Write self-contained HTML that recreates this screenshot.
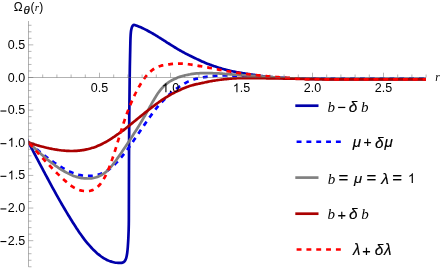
<!DOCTYPE html>
<html><head><meta charset="utf-8"><title>plot</title>
<style>html,body{margin:0;padding:0;background:#fff;width:442px;height:270px;overflow:hidden;font-family:"Liberation Sans",sans-serif}</style></head>
<body>
<svg width="442" height="270" viewBox="0 0 442 270" style="position:absolute;left:0;top:0;will-change:transform">
<clipPath id="cp"><rect x="28.2" y="0" width="397.8" height="270"/></clipPath>
<g fill="none" stroke-width="2.70" stroke-linejoin="round" clip-path="url(#cp)">
<path d="M26.50 138.48 C26.83 139.12 27.83 141.03 28.50 142.30 C29.17 143.57 29.83 144.85 30.50 146.12 C31.17 147.39 31.83 148.67 32.50 149.94 C33.17 151.21 33.83 152.48 34.50 153.75 C35.17 155.02 35.83 156.28 36.50 157.55 C37.17 158.81 37.83 160.08 38.50 161.34 C39.17 162.60 39.83 163.86 40.50 165.11 C41.17 166.37 41.83 167.63 42.50 168.88 C43.17 170.13 43.83 171.39 44.50 172.64 C45.17 173.89 45.83 175.14 46.50 176.39 C47.17 177.63 47.83 178.88 48.50 180.12 C49.17 181.36 49.83 182.60 50.50 183.83 C51.17 185.07 51.83 186.30 52.50 187.52 C53.17 188.74 53.83 189.96 54.50 191.17 C55.17 192.38 55.83 193.59 56.50 194.79 C57.17 195.98 57.83 197.18 58.50 198.36 C59.17 199.54 59.83 200.71 60.50 201.87 C61.17 203.04 61.83 204.19 62.50 205.34 C63.17 206.48 63.83 207.62 64.50 208.75 C65.17 209.88 65.83 211.00 66.50 212.11 C67.17 213.22 67.83 214.33 68.50 215.43 C69.17 216.52 69.83 217.61 70.50 218.70 C71.17 219.78 71.83 220.85 72.50 221.92 C73.17 222.98 73.83 224.03 74.50 225.07 C75.17 226.12 75.83 227.15 76.50 228.17 C77.17 229.18 77.83 230.19 78.50 231.18 C79.17 232.16 79.83 233.14 80.50 234.09 C81.17 235.04 81.83 235.98 82.50 236.89 C83.17 237.80 83.83 238.69 84.50 239.55 C85.17 240.42 85.83 241.25 86.50 242.07 C87.17 242.89 87.83 243.68 88.50 244.45 C89.17 245.22 89.83 245.97 90.50 246.70 C91.17 247.42 91.83 248.13 92.50 248.82 C93.17 249.51 93.83 250.18 94.50 250.82 C95.17 251.47 95.83 252.09 96.50 252.69 C97.17 253.29 97.83 253.86 98.50 254.41 C99.17 254.96 99.83 255.48 100.50 255.98 C101.17 256.47 101.83 256.93 102.50 257.37 C103.17 257.81 103.83 258.22 104.50 258.61 C105.17 259.00 105.83 259.36 106.50 259.69 C107.17 260.03 107.83 260.33 108.50 260.62 C109.17 260.90 109.83 261.16 110.50 261.39 C111.17 261.63 111.83 261.83 112.50 262.01 C113.17 262.19 113.83 262.35 114.50 262.47 C115.17 262.59 115.83 262.68 116.50 262.76 C117.17 262.83 117.98 262.87 118.50 262.90 C119.02 262.93 118.93 263.00 119.60 262.95 C120.27 262.90 121.68 262.86 122.50 262.60 C123.32 262.34 123.88 262.15 124.50 261.40 C125.12 260.65 125.75 259.50 126.20 258.10 C126.65 256.70 126.93 254.85 127.20 253.00 C127.47 251.15 127.60 249.67 127.80 247.00 C128.00 244.33 128.23 240.83 128.40 237.00 C128.57 233.17 128.72 230.17 128.80 224.00 C128.88 217.83 128.85 214.00 128.90 200.00 C128.95 186.00 128.97 160.50 129.10 140.00 C129.23 119.50 129.52 92.00 129.70 77.00 C129.88 62.00 130.07 56.50 130.20 50.00 C130.33 43.50 130.38 41.00 130.50 38.00 C130.62 35.00 130.70 33.70 130.90 32.00 C131.10 30.30 131.38 28.87 131.70 27.80 C132.02 26.73 132.40 26.10 132.80 25.60 C133.20 25.10 133.55 24.82 134.10 24.80 C134.65 24.78 135.43 25.27 136.10 25.51 C136.77 25.75 137.43 25.99 138.10 26.24 C138.77 26.50 139.43 26.76 140.10 27.04 C140.77 27.32 141.43 27.62 142.10 27.92 C142.77 28.23 143.43 28.55 144.10 28.87 C144.77 29.20 145.43 29.54 146.10 29.89 C146.77 30.24 147.43 30.59 148.10 30.95 C148.77 31.32 149.43 31.68 150.10 32.06 C150.77 32.43 151.43 32.81 152.10 33.19 C152.77 33.58 153.43 33.97 154.10 34.36 C154.77 34.76 155.43 35.16 156.10 35.56 C156.77 35.96 157.43 36.37 158.10 36.78 C158.77 37.19 159.43 37.61 160.10 38.03 C160.77 38.45 161.43 38.87 162.10 39.29 C162.77 39.71 163.43 40.14 164.10 40.56 C164.77 40.99 165.43 41.42 166.10 41.85 C166.77 42.27 167.43 42.70 168.10 43.13 C168.77 43.55 169.43 43.98 170.10 44.40 C170.77 44.82 171.43 45.25 172.10 45.66 C172.77 46.08 173.43 46.49 174.10 46.90 C174.77 47.31 175.43 47.72 176.10 48.12 C176.77 48.52 177.43 48.91 178.10 49.30 C178.77 49.69 179.43 50.08 180.10 50.46 C180.77 50.84 181.43 51.21 182.10 51.58 C182.77 51.95 183.43 52.31 184.10 52.67 C184.77 53.02 185.43 53.38 186.10 53.72 C186.77 54.07 187.43 54.41 188.10 54.75 C188.77 55.09 189.43 55.42 190.10 55.75 C190.77 56.08 191.43 56.40 192.10 56.73 C192.77 57.05 193.43 57.37 194.10 57.69 C194.77 58.01 195.43 58.33 196.10 58.65 C196.77 58.97 197.43 59.29 198.10 59.60 C198.77 59.92 199.43 60.24 200.10 60.55 C200.77 60.86 201.43 61.17 202.10 61.47 C202.77 61.76 203.43 62.06 204.10 62.34 C204.77 62.63 205.43 62.90 206.10 63.17 C206.77 63.44 207.43 63.70 208.10 63.96 C208.77 64.21 209.43 64.46 210.10 64.71 C210.77 64.96 211.43 65.20 212.10 65.44 C212.77 65.68 213.43 65.91 214.10 66.15 C214.77 66.38 215.43 66.61 216.10 66.83 C216.77 67.06 217.43 67.28 218.10 67.50 C218.77 67.71 219.43 67.93 220.10 68.13 C220.77 68.34 221.43 68.54 222.10 68.73 C222.77 68.92 223.43 69.11 224.10 69.30 C224.77 69.48 225.43 69.66 226.10 69.83 C226.77 70.00 227.43 70.16 228.10 70.32 C228.77 70.48 229.43 70.64 230.10 70.79 C230.77 70.94 231.43 71.08 232.10 71.22 C232.77 71.36 233.43 71.50 234.10 71.63 C234.77 71.76 235.43 71.89 236.10 72.02 C236.77 72.15 237.43 72.27 238.10 72.39 C238.77 72.51 239.43 72.63 240.10 72.75 C240.77 72.87 241.43 72.98 242.10 73.09 C242.77 73.20 243.43 73.31 244.10 73.42 C244.77 73.52 245.43 73.62 246.10 73.73 C246.77 73.83 247.43 73.92 248.10 74.02 C248.77 74.12 249.43 74.22 250.10 74.32 C250.77 74.42 251.43 74.52 252.10 74.61 C252.77 74.71 253.43 74.82 254.10 74.92 C254.77 75.02 255.43 75.12 256.10 75.22 C256.77 75.32 257.43 75.42 258.10 75.52 C258.77 75.62 259.43 75.72 260.10 75.81 C260.77 75.91 261.43 76.00 262.10 76.09 C262.77 76.18 263.43 76.27 264.10 76.35 C264.77 76.44 265.43 76.52 266.10 76.59 C266.77 76.67 267.43 76.74 268.10 76.81 C268.77 76.88 269.43 76.94 270.10 77.00 C270.77 77.07 271.43 77.12 272.10 77.18 C272.77 77.24 273.43 77.29 274.10 77.35 C274.77 77.40 275.43 77.45 276.10 77.51 C276.77 77.56 277.43 77.62 278.10 77.67 C278.77 77.73 279.43 77.78 280.10 77.83 C280.77 77.88 281.43 77.93 282.10 77.98 C282.77 78.03 283.43 78.07 284.10 78.11 C284.77 78.14 285.43 78.18 286.10 78.21 C286.77 78.23 287.43 78.26 288.10 78.28 C288.77 78.31 289.43 78.33 290.10 78.35 C290.77 78.37 291.43 78.38 292.10 78.40 C292.77 78.42 293.43 78.44 294.10 78.46 C294.77 78.48 295.43 78.49 296.10 78.51 C296.77 78.53 297.43 78.55 298.10 78.56 C298.77 78.58 299.43 78.60 300.10 78.61 C300.77 78.63 301.43 78.64 302.10 78.66 C302.77 78.67 303.43 78.69 304.10 78.70 C304.77 78.72 305.43 78.73 306.10 78.74 C306.77 78.76 307.43 78.77 308.10 78.78 C308.77 78.79 309.43 78.80 310.10 78.81 C310.77 78.82 311.43 78.83 312.10 78.84 C312.77 78.85 313.43 78.86 314.10 78.87 C314.77 78.88 315.43 78.89 316.10 78.90 C316.77 78.91 317.43 78.92 318.10 78.93 C318.77 78.94 319.43 78.94 320.10 78.95 C320.77 78.96 321.43 78.97 322.10 78.97 C322.77 78.98 323.43 78.99 324.10 79.00 C324.77 79.00 325.43 79.01 326.10 79.01 C326.77 79.02 327.43 79.03 328.10 79.03 C328.77 79.04 329.43 79.04 330.10 79.05 C330.77 79.05 331.43 79.06 332.10 79.06 C332.77 79.07 333.43 79.07 334.10 79.07 C334.77 79.08 335.43 79.08 336.10 79.09 C336.77 79.09 337.43 79.09 338.10 79.09 C338.77 79.10 339.43 79.10 340.10 79.10 C340.77 79.10 341.43 79.10 342.10 79.10 C342.77 79.11 343.43 79.11 344.10 79.11 C344.77 79.11 345.43 79.11 346.10 79.11 C346.77 79.11 347.43 79.11 348.10 79.11 C348.77 79.11 349.43 79.11 350.10 79.11 C350.77 79.11 351.43 79.11 352.10 79.11 C352.77 79.11 353.43 79.11 354.10 79.11 C354.77 79.11 355.43 79.10 356.10 79.10 C356.77 79.10 357.43 79.10 358.10 79.10 C358.77 79.10 359.43 79.10 360.10 79.10 C360.77 79.10 361.43 79.10 362.10 79.10 C362.77 79.10 363.43 79.10 364.10 79.10 C364.77 79.10 365.43 79.10 366.10 79.10 C366.77 79.10 367.43 79.10 368.10 79.10 C368.77 79.10 369.43 79.10 370.10 79.10 C370.77 79.10 371.43 79.10 372.10 79.10 C372.77 79.10 373.43 79.10 374.10 79.10 C374.77 79.10 375.43 79.10 376.10 79.10 C376.77 79.10 377.43 79.10 378.10 79.10 C378.77 79.10 379.43 79.10 380.10 79.10 C380.77 79.10 381.43 79.10 382.10 79.10 C382.77 79.10 383.43 79.10 384.10 79.10 C384.77 79.10 385.43 79.10 386.10 79.10 C386.77 79.10 387.43 79.10 388.10 79.10 C388.77 79.10 389.43 79.10 390.10 79.10 C390.77 79.10 391.43 79.10 392.10 79.10 C392.77 79.10 393.43 79.10 394.10 79.10 C394.77 79.10 395.43 79.10 396.10 79.10 C396.77 79.10 397.43 79.10 398.10 79.10 C398.77 79.10 399.43 79.10 400.10 79.10 C400.77 79.10 401.43 79.10 402.10 79.10 C402.77 79.10 403.43 79.10 404.10 79.10 C404.77 79.10 405.43 79.10 406.10 79.10 C406.77 79.10 407.43 79.10 408.10 79.10 C408.77 79.10 409.43 79.10 410.10 79.10 C410.77 79.10 411.43 79.10 412.10 79.10 C412.77 79.10 413.43 79.10 414.10 79.10 C414.77 79.10 415.43 79.10 416.10 79.10 C416.77 79.10 417.43 79.10 418.10 79.10 C418.77 79.10 419.43 79.10 420.10 79.10 C420.77 79.10 421.43 79.10 422.10 79.10 C422.77 79.10 423.47 79.10 424.10 79.10 C424.73 79.10 425.27 79.10 425.90 79.10 C426.53 79.10 427.57 79.10 427.90 79.10" stroke="#0000aa"/>
<path d="M26.50 140.57 C26.83 140.86 27.83 141.72 28.50 142.30 C29.17 142.88 29.83 143.45 30.50 144.03 C31.17 144.60 31.83 145.18 32.50 145.75 C33.17 146.32 33.83 146.88 34.50 147.45 C35.17 148.01 35.83 148.56 36.50 149.11 C37.17 149.66 37.83 150.21 38.50 150.75 C39.17 151.29 39.83 151.82 40.50 152.35 C41.17 152.88 41.83 153.41 42.50 153.93 C43.17 154.45 43.83 154.97 44.50 155.49 C45.17 156.00 45.83 156.52 46.50 157.03 C47.17 157.54 47.83 158.04 48.50 158.54 C49.17 159.04 49.83 159.53 50.50 160.02 C51.17 160.50 51.83 160.98 52.50 161.45 C53.17 161.93 53.83 162.39 54.50 162.84 C55.17 163.30 55.83 163.74 56.50 164.18 C57.17 164.62 57.83 165.05 58.50 165.47 C59.17 165.89 59.83 166.30 60.50 166.70 C61.17 167.11 61.83 167.50 62.50 167.88 C63.17 168.27 63.83 168.64 64.50 169.00 C65.17 169.36 65.83 169.72 66.50 170.06 C67.17 170.40 67.83 170.72 68.50 171.04 C69.17 171.35 69.83 171.66 70.50 171.95 C71.17 172.23 71.83 172.51 72.50 172.77 C73.17 173.03 73.83 173.28 74.50 173.51 C75.17 173.74 75.83 173.95 76.50 174.15 C77.17 174.35 77.83 174.53 78.50 174.70 C79.17 174.87 79.83 175.02 80.50 175.15 C81.17 175.29 81.83 175.40 82.50 175.50 C83.17 175.60 83.83 175.69 84.50 175.75 C85.17 175.82 85.83 175.87 86.50 175.90 C87.17 175.94 87.83 175.95 88.50 175.95 C89.17 175.95 89.83 175.93 90.50 175.90 C91.17 175.87 91.83 175.82 92.50 175.75 C93.17 175.69 93.83 175.61 94.50 175.50 C95.17 175.40 95.83 175.28 96.50 175.14 C97.17 175.00 97.83 174.84 98.50 174.66 C99.17 174.47 99.83 174.26 100.50 174.03 C101.17 173.80 101.83 173.54 102.50 173.25 C103.17 172.97 103.83 172.65 104.50 172.31 C105.17 171.96 105.83 171.59 106.50 171.18 C107.17 170.77 107.83 170.33 108.50 169.85 C109.17 169.37 109.83 168.85 110.50 168.31 C111.17 167.77 111.83 167.19 112.50 166.59 C113.17 165.99 113.83 165.36 114.50 164.71 C115.17 164.05 115.83 163.38 116.50 162.68 C117.17 161.99 117.83 161.27 118.50 160.54 C119.17 159.80 119.83 159.05 120.50 158.27 C121.17 157.49 121.83 156.69 122.50 155.88 C123.17 155.06 123.83 154.22 124.50 153.36 C125.17 152.50 125.83 151.62 126.50 150.72 C127.17 149.83 127.83 148.91 128.50 147.98 C129.17 147.05 129.83 146.11 130.50 145.16 C131.17 144.21 131.83 143.24 132.50 142.27 C133.17 141.30 133.83 140.32 134.50 139.34 C135.17 138.36 135.83 137.37 136.50 136.39 C137.17 135.40 137.83 134.41 138.50 133.42 C139.17 132.43 139.83 131.44 140.50 130.46 C141.17 129.48 141.83 128.50 142.50 127.53 C143.17 126.55 143.83 125.58 144.50 124.62 C145.17 123.65 145.83 122.69 146.50 121.74 C147.17 120.78 147.83 119.83 148.50 118.89 C149.17 117.95 149.83 117.01 150.50 116.08 C151.17 115.16 151.83 114.24 152.50 113.35 C153.17 112.45 153.83 111.56 154.50 110.70 C155.17 109.84 155.83 109.00 156.50 108.18 C157.17 107.37 157.83 106.58 158.50 105.80 C159.17 105.03 159.83 104.28 160.50 103.54 C161.17 102.80 161.83 102.08 162.50 101.37 C163.17 100.66 163.83 99.97 164.50 99.28 C165.17 98.60 165.83 97.92 166.50 97.27 C167.17 96.61 167.83 95.96 168.50 95.33 C169.17 94.70 169.83 94.09 170.50 93.50 C171.17 92.91 171.83 92.33 172.50 91.78 C173.17 91.23 173.83 90.71 174.50 90.20 C175.17 89.68 175.83 89.19 176.50 88.71 C177.17 88.23 177.83 87.77 178.50 87.31 C179.17 86.85 179.83 86.41 180.50 85.97 C181.17 85.53 181.83 85.10 182.50 84.68 C183.17 84.26 183.83 83.85 184.50 83.46 C185.17 83.08 185.83 82.70 186.50 82.35 C187.17 82.00 187.83 81.67 188.50 81.37 C189.17 81.06 189.83 80.79 190.50 80.53 C191.17 80.27 191.83 80.03 192.50 79.81 C193.17 79.59 193.83 79.39 194.50 79.20 C195.17 79.01 195.83 78.84 196.50 78.68 C197.17 78.51 197.83 78.36 198.50 78.22 C199.17 78.08 199.83 77.94 200.50 77.82 C201.17 77.69 201.83 77.57 202.50 77.45 C203.17 77.34 203.83 77.23 204.50 77.12 C205.17 77.01 205.83 76.90 206.50 76.80 C207.17 76.70 207.83 76.61 208.50 76.52 C209.17 76.42 209.83 76.34 210.50 76.26 C211.17 76.18 211.83 76.11 212.50 76.05 C213.17 75.99 213.83 75.94 214.50 75.89 C215.17 75.84 215.83 75.80 216.50 75.76 C217.17 75.72 217.83 75.69 218.50 75.66 C219.17 75.63 219.83 75.61 220.50 75.58 C221.17 75.56 221.83 75.54 222.50 75.52 C223.17 75.50 223.83 75.49 224.50 75.48 C225.17 75.47 225.83 75.47 226.50 75.48 C227.17 75.48 227.83 75.49 228.50 75.51 C229.17 75.53 229.83 75.56 230.50 75.60 C231.17 75.63 231.83 75.67 232.50 75.71 C233.17 75.74 233.83 75.78 234.50 75.82 C235.17 75.86 235.83 75.89 236.50 75.92 C237.17 75.95 237.83 75.98 238.50 76.00 C239.17 76.03 239.83 76.05 240.50 76.07 C241.17 76.10 241.83 76.12 242.50 76.14 C243.17 76.17 243.83 76.19 244.50 76.22 C245.17 76.25 245.83 76.28 246.50 76.32 C247.17 76.35 247.83 76.39 248.50 76.42 C249.17 76.46 249.83 76.50 250.50 76.53 C251.17 76.56 251.83 76.59 252.50 76.62 C253.17 76.65 253.83 76.68 254.50 76.70 C255.17 76.73 255.83 76.75 256.50 76.77 C257.17 76.79 257.83 76.82 258.50 76.84 C259.17 76.87 259.83 76.89 260.50 76.92 C261.17 76.95 261.83 76.98 262.50 77.01 C263.17 77.04 263.83 77.08 264.50 77.11 C265.17 77.15 265.83 77.18 266.50 77.22 C267.17 77.25 267.83 77.29 268.50 77.33 C269.17 77.36 269.83 77.40 270.50 77.43 C271.17 77.47 271.83 77.50 272.50 77.54 C273.17 77.57 273.83 77.60 274.50 77.63 C275.17 77.66 275.83 77.69 276.50 77.72 C277.17 77.75 277.83 77.77 278.50 77.80 C279.17 77.82 279.83 77.84 280.50 77.87 C281.17 77.89 281.83 77.92 282.50 77.94 C283.17 77.97 283.83 77.99 284.50 78.02 C285.17 78.05 285.83 78.08 286.50 78.11 C287.17 78.14 287.83 78.17 288.50 78.19 C289.17 78.22 289.83 78.24 290.50 78.26 C291.17 78.28 291.83 78.30 292.50 78.31 C293.17 78.32 293.83 78.32 294.50 78.32 C295.17 78.33 295.83 78.32 296.50 78.32 C297.17 78.31 297.83 78.31 298.50 78.30 C299.17 78.29 299.83 78.28 300.50 78.28 C301.17 78.27 301.83 78.26 302.50 78.26 C303.17 78.25 303.83 78.25 304.50 78.25 C305.17 78.25 305.83 78.26 306.50 78.26 C307.17 78.27 307.83 78.28 308.50 78.29 C309.17 78.30 309.83 78.31 310.50 78.33 C311.17 78.34 311.83 78.36 312.50 78.37 C313.17 78.39 313.83 78.40 314.50 78.42 C315.17 78.43 315.83 78.45 316.50 78.46 C317.17 78.47 317.83 78.49 318.50 78.50 C319.17 78.51 319.83 78.52 320.50 78.53 C321.17 78.54 321.83 78.55 322.50 78.56 C323.17 78.57 323.83 78.57 324.50 78.58 C325.17 78.59 325.83 78.59 326.50 78.60 C327.17 78.60 327.83 78.61 328.50 78.61 C329.17 78.62 329.83 78.62 330.50 78.62 C331.17 78.63 331.83 78.63 332.50 78.63 C333.17 78.64 333.83 78.64 334.50 78.64 C335.17 78.64 335.83 78.64 336.50 78.64 C337.17 78.65 337.83 78.65 338.50 78.65 C339.17 78.65 339.83 78.65 340.50 78.65 C341.17 78.65 341.83 78.65 342.50 78.65 C343.17 78.65 343.83 78.65 344.50 78.65 C345.17 78.65 345.83 78.65 346.50 78.65 C347.17 78.65 347.83 78.65 348.50 78.65 C349.17 78.65 349.83 78.65 350.50 78.65 C351.17 78.65 351.83 78.65 352.50 78.65 C353.17 78.65 353.83 78.65 354.50 78.65 C355.17 78.65 355.83 78.65 356.50 78.65 C357.17 78.65 357.83 78.65 358.50 78.65 C359.17 78.65 359.83 78.65 360.50 78.65 C361.17 78.65 361.83 78.65 362.50 78.65 C363.17 78.65 363.83 78.65 364.50 78.65 C365.17 78.65 365.83 78.65 366.50 78.65 C367.17 78.65 367.83 78.65 368.50 78.65 C369.17 78.65 369.83 78.65 370.50 78.65 C371.17 78.65 371.83 78.65 372.50 78.65 C373.17 78.65 373.83 78.65 374.50 78.65 C375.17 78.65 375.83 78.65 376.50 78.65 C377.17 78.65 377.83 78.65 378.50 78.65 C379.17 78.65 379.83 78.65 380.50 78.65 C381.17 78.65 381.83 78.65 382.50 78.65 C383.17 78.65 383.83 78.65 384.50 78.65 C385.17 78.65 385.83 78.65 386.50 78.65 C387.17 78.65 387.83 78.65 388.50 78.65 C389.17 78.65 389.83 78.65 390.50 78.65 C391.17 78.65 391.83 78.65 392.50 78.65 C393.17 78.65 393.83 78.65 394.50 78.65 C395.17 78.65 395.83 78.65 396.50 78.65 C397.17 78.65 397.83 78.65 398.50 78.65 C399.17 78.65 399.83 78.65 400.50 78.65 C401.17 78.65 401.83 78.65 402.50 78.65 C403.17 78.65 403.83 78.65 404.50 78.65 C405.17 78.65 405.83 78.65 406.50 78.65 C407.17 78.65 407.83 78.65 408.50 78.65 C409.17 78.65 409.83 78.65 410.50 78.65 C411.17 78.65 411.83 78.65 412.50 78.65 C413.17 78.65 413.83 78.65 414.50 78.65 C415.17 78.65 415.83 78.65 416.50 78.65 C417.17 78.65 417.83 78.65 418.50 78.65 C419.17 78.65 419.83 78.65 420.50 78.65 C421.17 78.65 421.83 78.65 422.50 78.65 C423.17 78.65 423.93 78.65 424.50 78.65 C425.07 78.65 425.33 78.65 425.90 78.65 C426.47 78.65 427.57 78.65 427.90 78.65" stroke="#0000ff" stroke-dasharray="4.9 4.93" stroke-dashoffset="6.41"/>
<path d="M26.50 140.35 C26.83 140.68 27.83 141.65 28.50 142.30 C29.17 142.95 29.83 143.60 30.50 144.25 C31.17 144.89 31.83 145.54 32.50 146.18 C33.17 146.82 33.83 147.46 34.50 148.09 C35.17 148.72 35.83 149.35 36.50 149.96 C37.17 150.58 37.83 151.19 38.50 151.79 C39.17 152.39 39.83 152.98 40.50 153.57 C41.17 154.16 41.83 154.74 42.50 155.32 C43.17 155.89 43.83 156.46 44.50 157.02 C45.17 157.59 45.83 158.15 46.50 158.70 C47.17 159.25 47.83 159.80 48.50 160.34 C49.17 160.88 49.83 161.41 50.50 161.93 C51.17 162.46 51.83 162.97 52.50 163.48 C53.17 163.99 53.83 164.49 54.50 164.98 C55.17 165.47 55.83 165.96 56.50 166.43 C57.17 166.90 57.83 167.36 58.50 167.81 C59.17 168.26 59.83 168.70 60.50 169.12 C61.17 169.55 61.83 169.96 62.50 170.36 C63.17 170.77 63.83 171.15 64.50 171.53 C65.17 171.91 65.83 172.27 66.50 172.63 C67.17 172.98 67.83 173.32 68.50 173.65 C69.17 173.98 69.83 174.29 70.50 174.59 C71.17 174.89 71.83 175.18 72.50 175.45 C73.17 175.72 73.83 175.97 74.50 176.20 C75.17 176.44 75.83 176.65 76.50 176.85 C77.17 177.05 77.83 177.23 78.50 177.38 C79.17 177.54 79.83 177.68 80.50 177.81 C81.17 177.93 81.83 178.04 82.50 178.13 C83.17 178.22 83.83 178.29 84.50 178.35 C85.17 178.40 85.83 178.44 86.50 178.46 C87.17 178.49 87.83 178.49 88.50 178.48 C89.17 178.46 89.83 178.42 90.50 178.37 C91.17 178.31 91.83 178.23 92.50 178.13 C93.17 178.02 93.83 177.90 94.50 177.75 C95.17 177.59 95.83 177.41 96.50 177.20 C97.17 176.99 97.83 176.75 98.50 176.48 C99.17 176.20 99.83 175.89 100.50 175.55 C101.17 175.20 101.83 174.82 102.50 174.40 C103.17 173.98 103.83 173.52 104.50 173.02 C105.17 172.52 105.83 171.98 106.50 171.39 C107.17 170.81 107.83 170.18 108.50 169.50 C109.17 168.83 109.83 168.11 110.50 167.35 C111.17 166.60 111.83 165.80 112.50 164.98 C113.17 164.16 113.83 163.30 114.50 162.42 C115.17 161.54 115.83 160.63 116.50 159.71 C117.17 158.79 117.83 157.85 118.50 156.89 C119.17 155.94 119.83 154.97 120.50 153.99 C121.17 153.02 121.83 152.03 122.50 151.04 C123.17 150.05 123.83 149.05 124.50 148.05 C125.17 147.05 125.83 146.06 126.50 145.05 C127.17 144.05 127.83 143.05 128.50 142.04 C129.17 141.03 129.83 140.02 130.50 139.00 C131.17 137.98 131.83 136.96 132.50 135.93 C133.17 134.90 133.83 133.87 134.50 132.82 C135.17 131.78 135.83 130.73 136.50 129.67 C137.17 128.61 137.83 127.54 138.50 126.46 C139.17 125.37 139.83 124.28 140.50 123.17 C141.17 122.06 141.83 120.94 142.50 119.81 C143.17 118.67 143.83 117.53 144.50 116.37 C145.17 115.21 145.83 114.05 146.50 112.87 C147.17 111.69 147.83 110.50 148.50 109.30 C149.17 108.11 149.83 106.90 150.50 105.71 C151.17 104.52 151.83 103.32 152.50 102.16 C153.17 101.00 153.83 99.84 154.50 98.74 C155.17 97.63 155.83 96.55 156.50 95.52 C157.17 94.49 157.83 93.50 158.50 92.57 C159.17 91.63 159.83 90.74 160.50 89.91 C161.17 89.07 161.83 88.28 162.50 87.55 C163.17 86.82 163.83 86.15 164.50 85.52 C165.17 84.90 165.83 84.34 166.50 83.82 C167.17 83.29 167.83 82.82 168.50 82.37 C169.17 81.93 169.83 81.52 170.50 81.13 C171.17 80.74 171.83 80.38 172.50 80.04 C173.17 79.69 173.83 79.36 174.50 79.04 C175.17 78.72 175.83 78.43 176.50 78.14 C177.17 77.86 177.83 77.59 178.50 77.34 C179.17 77.09 179.83 76.85 180.50 76.63 C181.17 76.41 181.83 76.21 182.50 76.02 C183.17 75.82 183.83 75.65 184.50 75.48 C185.17 75.31 185.83 75.16 186.50 75.01 C187.17 74.87 187.83 74.73 188.50 74.60 C189.17 74.47 189.83 74.35 190.50 74.24 C191.17 74.13 191.83 74.02 192.50 73.92 C193.17 73.83 193.83 73.74 194.50 73.66 C195.17 73.58 195.83 73.51 196.50 73.45 C197.17 73.39 197.83 73.34 198.50 73.30 C199.17 73.25 199.83 73.22 200.50 73.19 C201.17 73.16 201.83 73.14 202.50 73.12 C203.17 73.11 203.83 73.10 204.50 73.10 C205.17 73.09 205.83 73.09 206.50 73.10 C207.17 73.10 207.83 73.11 208.50 73.13 C209.17 73.14 209.83 73.15 210.50 73.17 C211.17 73.18 211.83 73.20 212.50 73.21 C213.17 73.23 213.83 73.24 214.50 73.26 C215.17 73.28 215.83 73.30 216.50 73.32 C217.17 73.35 217.83 73.37 218.50 73.41 C219.17 73.45 219.83 73.49 220.50 73.54 C221.17 73.58 221.83 73.64 222.50 73.70 C223.17 73.76 223.83 73.82 224.50 73.89 C225.17 73.95 225.83 74.01 226.50 74.07 C227.17 74.13 227.83 74.19 228.50 74.24 C229.17 74.29 229.83 74.33 230.50 74.37 C231.17 74.42 231.83 74.45 232.50 74.49 C233.17 74.53 233.83 74.57 234.50 74.61 C235.17 74.65 235.83 74.69 236.50 74.73 C237.17 74.78 237.83 74.83 238.50 74.88 C239.17 74.93 239.83 74.98 240.50 75.03 C241.17 75.08 241.83 75.14 242.50 75.19 C243.17 75.24 243.83 75.29 244.50 75.34 C245.17 75.38 245.83 75.43 246.50 75.47 C247.17 75.51 247.83 75.55 248.50 75.59 C249.17 75.64 249.83 75.67 250.50 75.71 C251.17 75.75 251.83 75.79 252.50 75.83 C253.17 75.87 253.83 75.91 254.50 75.95 C255.17 75.99 255.83 76.03 256.50 76.07 C257.17 76.11 257.83 76.15 258.50 76.20 C259.17 76.24 259.83 76.29 260.50 76.34 C261.17 76.38 261.83 76.44 262.50 76.49 C263.17 76.54 263.83 76.59 264.50 76.64 C265.17 76.69 265.83 76.74 266.50 76.79 C267.17 76.84 267.83 76.89 268.50 76.93 C269.17 76.98 269.83 77.02 270.50 77.07 C271.17 77.11 271.83 77.15 272.50 77.19 C273.17 77.23 273.83 77.27 274.50 77.31 C275.17 77.35 275.83 77.39 276.50 77.43 C277.17 77.47 277.83 77.52 278.50 77.56 C279.17 77.60 279.83 77.64 280.50 77.69 C281.17 77.73 281.83 77.77 282.50 77.81 C283.17 77.85 283.83 77.89 284.50 77.93 C285.17 77.97 285.83 78.00 286.50 78.04 C287.17 78.07 287.83 78.10 288.50 78.13 C289.17 78.17 289.83 78.20 290.50 78.23 C291.17 78.26 291.83 78.29 292.50 78.32 C293.17 78.35 293.83 78.39 294.50 78.42 C295.17 78.45 295.83 78.48 296.50 78.51 C297.17 78.54 297.83 78.57 298.50 78.60 C299.17 78.63 299.83 78.65 300.50 78.68 C301.17 78.71 301.83 78.73 302.50 78.75 C303.17 78.77 303.83 78.80 304.50 78.81 C305.17 78.83 305.83 78.85 306.50 78.86 C307.17 78.88 307.83 78.89 308.50 78.90 C309.17 78.92 309.83 78.93 310.50 78.94 C311.17 78.95 311.83 78.95 312.50 78.96 C313.17 78.97 313.83 78.98 314.50 78.98 C315.17 78.99 315.83 79.00 316.50 79.01 C317.17 79.01 317.83 79.02 318.50 79.03 C319.17 79.03 319.83 79.04 320.50 79.05 C321.17 79.05 321.83 79.06 322.50 79.07 C323.17 79.07 323.83 79.08 324.50 79.09 C325.17 79.09 325.83 79.10 326.50 79.11 C327.17 79.11 327.83 79.12 328.50 79.13 C329.17 79.13 329.83 79.14 330.50 79.14 C331.17 79.15 331.83 79.15 332.50 79.16 C333.17 79.16 333.83 79.17 334.50 79.17 C335.17 79.18 335.83 79.18 336.50 79.18 C337.17 79.19 337.83 79.19 338.50 79.19 C339.17 79.20 339.83 79.20 340.50 79.20 C341.17 79.20 341.83 79.21 342.50 79.21 C343.17 79.21 343.83 79.21 344.50 79.21 C345.17 79.21 345.83 79.21 346.50 79.21 C347.17 79.21 347.83 79.21 348.50 79.21 C349.17 79.21 349.83 79.21 350.50 79.21 C351.17 79.21 351.83 79.21 352.50 79.21 C353.17 79.21 353.83 79.21 354.50 79.21 C355.17 79.21 355.83 79.20 356.50 79.20 C357.17 79.20 357.83 79.20 358.50 79.20 C359.17 79.20 359.83 79.20 360.50 79.20 C361.17 79.20 361.83 79.20 362.50 79.20 C363.17 79.20 363.83 79.20 364.50 79.20 C365.17 79.20 365.83 79.20 366.50 79.20 C367.17 79.20 367.83 79.20 368.50 79.20 C369.17 79.20 369.83 79.20 370.50 79.20 C371.17 79.20 371.83 79.20 372.50 79.20 C373.17 79.20 373.83 79.20 374.50 79.20 C375.17 79.20 375.83 79.20 376.50 79.20 C377.17 79.20 377.83 79.20 378.50 79.20 C379.17 79.20 379.83 79.20 380.50 79.20 C381.17 79.20 381.83 79.20 382.50 79.20 C383.17 79.20 383.83 79.20 384.50 79.20 C385.17 79.20 385.83 79.20 386.50 79.20 C387.17 79.20 387.83 79.20 388.50 79.20 C389.17 79.20 389.83 79.20 390.50 79.20 C391.17 79.20 391.83 79.20 392.50 79.20 C393.17 79.20 393.83 79.20 394.50 79.20 C395.17 79.20 395.83 79.20 396.50 79.20 C397.17 79.20 397.83 79.20 398.50 79.20 C399.17 79.20 399.83 79.20 400.50 79.20 C401.17 79.20 401.83 79.20 402.50 79.20 C403.17 79.20 403.83 79.20 404.50 79.20 C405.17 79.20 405.83 79.20 406.50 79.20 C407.17 79.20 407.83 79.20 408.50 79.20 C409.17 79.20 409.83 79.20 410.50 79.20 C411.17 79.20 411.83 79.20 412.50 79.20 C413.17 79.20 413.83 79.20 414.50 79.20 C415.17 79.20 415.83 79.20 416.50 79.20 C417.17 79.20 417.83 79.20 418.50 79.20 C419.17 79.20 419.83 79.20 420.50 79.20 C421.17 79.20 421.83 79.20 422.50 79.20 C423.17 79.20 423.93 79.20 424.50 79.20 C425.07 79.20 425.33 79.20 425.90 79.20 C426.47 79.20 427.57 79.20 427.90 79.20" stroke="#808080"/>
<path d="M26.50 141.58 C26.83 141.70 27.83 142.06 28.50 142.30 C29.17 142.54 29.83 142.78 30.50 143.02 C31.17 143.26 31.83 143.50 32.50 143.73 C33.17 143.96 33.83 144.19 34.50 144.41 C35.17 144.64 35.83 144.85 36.50 145.06 C37.17 145.26 37.83 145.46 38.50 145.65 C39.17 145.84 39.83 146.02 40.50 146.20 C41.17 146.38 41.83 146.55 42.50 146.72 C43.17 146.89 43.83 147.06 44.50 147.22 C45.17 147.39 45.83 147.55 46.50 147.70 C47.17 147.86 47.83 148.01 48.50 148.16 C49.17 148.31 49.83 148.46 50.50 148.59 C51.17 148.73 51.83 148.87 52.50 149.00 C53.17 149.13 53.83 149.25 54.50 149.37 C55.17 149.48 55.83 149.60 56.50 149.70 C57.17 149.81 57.83 149.91 58.50 150.00 C59.17 150.09 59.83 150.18 60.50 150.26 C61.17 150.34 61.83 150.42 62.50 150.48 C63.17 150.55 63.83 150.61 64.50 150.67 C65.17 150.72 65.83 150.77 66.50 150.82 C67.17 150.86 67.83 150.89 68.50 150.92 C69.17 150.95 69.83 150.98 70.50 150.99 C71.17 151.01 71.83 151.01 72.50 151.01 C73.17 151.01 73.83 151.00 74.50 150.97 C75.17 150.95 75.83 150.91 76.50 150.87 C77.17 150.82 77.83 150.76 78.50 150.69 C79.17 150.62 79.83 150.54 80.50 150.45 C81.17 150.36 81.83 150.26 82.50 150.16 C83.17 150.05 83.83 149.93 84.50 149.81 C85.17 149.69 85.83 149.56 86.50 149.41 C87.17 149.27 87.83 149.12 88.50 148.96 C89.17 148.80 89.83 148.63 90.50 148.44 C91.17 148.25 91.83 148.06 92.50 147.84 C93.17 147.63 93.83 147.40 94.50 147.16 C95.17 146.92 95.83 146.67 96.50 146.40 C97.17 146.14 97.83 145.86 98.50 145.57 C99.17 145.28 99.83 144.98 100.50 144.67 C101.17 144.36 101.83 144.04 102.50 143.70 C103.17 143.37 103.83 143.03 104.50 142.67 C105.17 142.32 105.83 141.95 106.50 141.57 C107.17 141.19 107.83 140.80 108.50 140.40 C109.17 140.00 109.83 139.59 110.50 139.16 C111.17 138.74 111.83 138.31 112.50 137.87 C113.17 137.43 113.83 136.98 114.50 136.53 C115.17 136.08 115.83 135.62 116.50 135.15 C117.17 134.69 117.83 134.22 118.50 133.75 C119.17 133.28 119.83 132.80 120.50 132.31 C121.17 131.83 121.83 131.34 122.50 130.84 C123.17 130.34 123.83 129.83 124.50 129.31 C125.17 128.80 125.83 128.28 126.50 127.75 C127.17 127.22 127.83 126.68 128.50 126.15 C129.17 125.61 129.83 125.06 130.50 124.52 C131.17 123.98 131.83 123.44 132.50 122.89 C133.17 122.35 133.83 121.81 134.50 121.26 C135.17 120.72 135.83 120.18 136.50 119.64 C137.17 119.10 137.83 118.56 138.50 118.01 C139.17 117.47 139.83 116.93 140.50 116.40 C141.17 115.86 141.83 115.32 142.50 114.78 C143.17 114.24 143.83 113.71 144.50 113.18 C145.17 112.64 145.83 112.11 146.50 111.58 C147.17 111.06 147.83 110.53 148.50 110.01 C149.17 109.49 149.83 108.97 150.50 108.45 C151.17 107.94 151.83 107.43 152.50 106.92 C153.17 106.41 153.83 105.91 154.50 105.41 C155.17 104.92 155.83 104.42 156.50 103.93 C157.17 103.44 157.83 102.96 158.50 102.48 C159.17 102.00 159.83 101.53 160.50 101.07 C161.17 100.60 161.83 100.14 162.50 99.70 C163.17 99.25 163.83 98.81 164.50 98.37 C165.17 97.94 165.83 97.52 166.50 97.11 C167.17 96.69 167.83 96.29 168.50 95.89 C169.17 95.50 169.83 95.11 170.50 94.73 C171.17 94.36 171.83 93.99 172.50 93.63 C173.17 93.27 173.83 92.92 174.50 92.57 C175.17 92.23 175.83 91.89 176.50 91.57 C177.17 91.24 177.83 90.92 178.50 90.60 C179.17 90.28 179.83 89.97 180.50 89.67 C181.17 89.37 181.83 89.07 182.50 88.78 C183.17 88.49 183.83 88.21 184.50 87.93 C185.17 87.66 185.83 87.40 186.50 87.15 C187.17 86.90 187.83 86.65 188.50 86.43 C189.17 86.20 189.83 85.98 190.50 85.78 C191.17 85.57 191.83 85.38 192.50 85.19 C193.17 85.01 193.83 84.83 194.50 84.67 C195.17 84.50 195.83 84.34 196.50 84.18 C197.17 84.03 197.83 83.88 198.50 83.74 C199.17 83.59 199.83 83.45 200.50 83.32 C201.17 83.18 201.83 83.04 202.50 82.91 C203.17 82.77 203.83 82.63 204.50 82.50 C205.17 82.36 205.83 82.22 206.50 82.08 C207.17 81.94 207.83 81.81 208.50 81.67 C209.17 81.54 209.83 81.40 210.50 81.28 C211.17 81.15 211.83 81.03 212.50 80.91 C213.17 80.80 213.83 80.68 214.50 80.58 C215.17 80.47 215.83 80.37 216.50 80.28 C217.17 80.18 217.83 80.09 218.50 80.00 C219.17 79.91 219.83 79.82 220.50 79.74 C221.17 79.65 221.83 79.57 222.50 79.49 C223.17 79.41 223.83 79.34 224.50 79.26 C225.17 79.19 225.83 79.12 226.50 79.05 C227.17 78.98 227.83 78.92 228.50 78.85 C229.17 78.79 229.83 78.73 230.50 78.67 C231.17 78.62 231.83 78.56 232.50 78.51 C233.17 78.47 233.83 78.42 234.50 78.38 C235.17 78.34 235.83 78.31 236.50 78.28 C237.17 78.25 237.83 78.22 238.50 78.20 C239.17 78.18 239.83 78.16 240.50 78.15 C241.17 78.13 241.83 78.12 242.50 78.12 C243.17 78.11 243.83 78.10 244.50 78.10 C245.17 78.09 245.83 78.09 246.50 78.09 C247.17 78.08 247.83 78.08 248.50 78.08 C249.17 78.08 249.83 78.09 250.50 78.09 C251.17 78.09 251.83 78.10 252.50 78.10 C253.17 78.11 253.83 78.12 254.50 78.13 C255.17 78.13 255.83 78.14 256.50 78.15 C257.17 78.16 257.83 78.17 258.50 78.18 C259.17 78.19 259.83 78.20 260.50 78.21 C261.17 78.22 261.83 78.22 262.50 78.23 C263.17 78.24 263.83 78.25 264.50 78.26 C265.17 78.27 265.83 78.27 266.50 78.28 C267.17 78.29 267.83 78.30 268.50 78.31 C269.17 78.31 269.83 78.32 270.50 78.33 C271.17 78.34 271.83 78.34 272.50 78.35 C273.17 78.36 273.83 78.37 274.50 78.38 C275.17 78.39 275.83 78.40 276.50 78.41 C277.17 78.42 277.83 78.43 278.50 78.44 C279.17 78.46 279.83 78.47 280.50 78.48 C281.17 78.49 281.83 78.51 282.50 78.52 C283.17 78.53 283.83 78.55 284.50 78.56 C285.17 78.57 285.83 78.58 286.50 78.60 C287.17 78.61 287.83 78.62 288.50 78.63 C289.17 78.64 289.83 78.66 290.50 78.67 C291.17 78.68 291.83 78.70 292.50 78.71 C293.17 78.73 293.83 78.74 294.50 78.76 C295.17 78.77 295.83 78.79 296.50 78.81 C297.17 78.83 297.83 78.84 298.50 78.86 C299.17 78.88 299.83 78.90 300.50 78.91 C301.17 78.93 301.83 78.95 302.50 78.96 C303.17 78.98 303.83 79.00 304.50 79.01 C305.17 79.03 305.83 79.04 306.50 79.05 C307.17 79.07 307.83 79.08 308.50 79.09 C309.17 79.10 309.83 79.11 310.50 79.12 C311.17 79.13 311.83 79.14 312.50 79.15 C313.17 79.16 313.83 79.17 314.50 79.18 C315.17 79.19 315.83 79.20 316.50 79.21 C317.17 79.21 317.83 79.22 318.50 79.23 C319.17 79.24 319.83 79.25 320.50 79.25 C321.17 79.26 321.83 79.27 322.50 79.28 C323.17 79.28 323.83 79.29 324.50 79.30 C325.17 79.30 325.83 79.31 326.50 79.32 C327.17 79.32 327.83 79.33 328.50 79.33 C329.17 79.34 329.83 79.34 330.50 79.35 C331.17 79.35 331.83 79.36 332.50 79.36 C333.17 79.37 333.83 79.37 334.50 79.38 C335.17 79.38 335.83 79.38 336.50 79.39 C337.17 79.39 337.83 79.39 338.50 79.39 C339.17 79.40 339.83 79.40 340.50 79.40 C341.17 79.40 341.83 79.40 342.50 79.41 C343.17 79.41 343.83 79.41 344.50 79.41 C345.17 79.41 345.83 79.41 346.50 79.41 C347.17 79.41 347.83 79.41 348.50 79.41 C349.17 79.41 349.83 79.41 350.50 79.41 C351.17 79.41 351.83 79.41 352.50 79.41 C353.17 79.41 353.83 79.41 354.50 79.41 C355.17 79.40 355.83 79.40 356.50 79.40 C357.17 79.40 357.83 79.40 358.50 79.40 C359.17 79.40 359.83 79.40 360.50 79.40 C361.17 79.40 361.83 79.40 362.50 79.40 C363.17 79.40 363.83 79.40 364.50 79.40 C365.17 79.40 365.83 79.40 366.50 79.40 C367.17 79.40 367.83 79.40 368.50 79.40 C369.17 79.40 369.83 79.40 370.50 79.40 C371.17 79.40 371.83 79.40 372.50 79.40 C373.17 79.40 373.83 79.40 374.50 79.40 C375.17 79.40 375.83 79.40 376.50 79.40 C377.17 79.40 377.83 79.40 378.50 79.40 C379.17 79.40 379.83 79.40 380.50 79.40 C381.17 79.40 381.83 79.40 382.50 79.40 C383.17 79.40 383.83 79.40 384.50 79.40 C385.17 79.40 385.83 79.40 386.50 79.40 C387.17 79.40 387.83 79.40 388.50 79.40 C389.17 79.40 389.83 79.40 390.50 79.40 C391.17 79.40 391.83 79.40 392.50 79.40 C393.17 79.40 393.83 79.40 394.50 79.40 C395.17 79.40 395.83 79.40 396.50 79.40 C397.17 79.40 397.83 79.40 398.50 79.40 C399.17 79.40 399.83 79.40 400.50 79.40 C401.17 79.40 401.83 79.40 402.50 79.40 C403.17 79.40 403.83 79.40 404.50 79.40 C405.17 79.40 405.83 79.40 406.50 79.40 C407.17 79.40 407.83 79.40 408.50 79.40 C409.17 79.40 409.83 79.40 410.50 79.40 C411.17 79.40 411.83 79.40 412.50 79.40 C413.17 79.40 413.83 79.40 414.50 79.40 C415.17 79.40 415.83 79.40 416.50 79.40 C417.17 79.40 417.83 79.40 418.50 79.40 C419.17 79.40 419.83 79.40 420.50 79.40 C421.17 79.40 421.83 79.40 422.50 79.40 C423.17 79.40 423.93 79.40 424.50 79.40 C425.07 79.40 425.33 79.40 425.90 79.40 C426.47 79.40 427.57 79.40 427.90 79.40" stroke="#aa0000"/>
<path d="M26.50 139.99 C26.83 140.37 27.83 141.53 28.50 142.30 C29.17 143.07 29.83 143.84 30.50 144.61 C31.17 145.38 31.83 146.15 32.50 146.91 C33.17 147.68 33.83 148.44 34.50 149.20 C35.17 149.96 35.83 150.71 36.50 151.46 C37.17 152.21 37.83 152.96 38.50 153.70 C39.17 154.44 39.83 155.17 40.50 155.90 C41.17 156.64 41.83 157.36 42.50 158.08 C43.17 158.81 43.83 159.52 44.50 160.24 C45.17 160.95 45.83 161.66 46.50 162.36 C47.17 163.07 47.83 163.77 48.50 164.47 C49.17 165.16 49.83 165.86 50.50 166.55 C51.17 167.24 51.83 167.93 52.50 168.61 C53.17 169.30 53.83 169.98 54.50 170.66 C55.17 171.34 55.83 172.01 56.50 172.68 C57.17 173.34 57.83 174.00 58.50 174.65 C59.17 175.30 59.83 175.94 60.50 176.57 C61.17 177.20 61.83 177.82 62.50 178.43 C63.17 179.04 63.83 179.64 64.50 180.23 C65.17 180.81 65.83 181.39 66.50 181.95 C67.17 182.52 67.83 183.07 68.50 183.61 C69.17 184.14 69.83 184.67 70.50 185.17 C71.17 185.68 71.83 186.16 72.50 186.62 C73.17 187.07 73.83 187.50 74.50 187.89 C75.17 188.27 75.83 188.63 76.50 188.94 C77.17 189.25 77.83 189.52 78.50 189.76 C79.17 190.00 79.83 190.20 80.50 190.37 C81.17 190.54 81.83 190.68 82.50 190.79 C83.17 190.90 83.83 190.99 84.50 191.05 C85.17 191.11 85.83 191.16 86.50 191.16 C87.17 191.16 87.83 191.14 88.50 191.07 C89.17 191.00 89.83 190.89 90.50 190.74 C91.17 190.58 91.83 190.38 92.50 190.12 C93.17 189.85 93.83 189.54 94.50 189.16 C95.17 188.78 95.83 188.34 96.50 187.82 C97.17 187.30 97.83 186.72 98.50 186.04 C99.17 185.37 99.83 184.63 100.50 183.79 C101.17 182.95 101.83 182.03 102.50 181.01 C103.17 179.99 103.83 178.88 104.50 177.67 C105.17 176.46 105.83 175.15 106.50 173.74 C107.17 172.33 107.83 170.82 108.50 169.21 C109.17 167.59 109.83 165.87 110.50 164.07 C111.17 162.27 111.83 160.37 112.50 158.42 C113.17 156.46 113.83 154.43 114.50 152.35 C115.17 150.28 115.83 148.14 116.50 145.98 C117.17 143.83 117.83 141.62 118.50 139.43 C119.17 137.24 119.83 135.02 120.50 132.85 C121.17 130.68 121.83 128.51 122.50 126.42 C123.17 124.33 123.83 122.28 124.50 120.31 C125.17 118.35 125.83 116.46 126.50 114.63 C127.17 112.80 127.83 111.04 128.50 109.34 C129.17 107.63 129.83 105.99 130.50 104.40 C131.17 102.80 131.83 101.27 132.50 99.77 C133.17 98.27 133.83 96.83 134.50 95.43 C135.17 94.03 135.83 92.67 136.50 91.37 C137.17 90.07 137.83 88.82 138.50 87.61 C139.17 86.41 139.83 85.26 140.50 84.17 C141.17 83.07 141.83 82.03 142.50 81.03 C143.17 80.04 143.83 79.10 144.50 78.21 C145.17 77.32 145.83 76.48 146.50 75.69 C147.17 74.90 147.83 74.16 148.50 73.47 C149.17 72.78 149.83 72.14 150.50 71.55 C151.17 70.96 151.83 70.41 152.50 69.91 C153.17 69.41 153.83 68.96 154.50 68.55 C155.17 68.14 155.83 67.78 156.50 67.45 C157.17 67.13 157.83 66.85 158.50 66.60 C159.17 66.35 159.83 66.13 160.50 65.94 C161.17 65.74 161.83 65.58 162.50 65.42 C163.17 65.27 163.83 65.13 164.50 65.00 C165.17 64.87 165.83 64.75 166.50 64.63 C167.17 64.52 167.83 64.41 168.50 64.32 C169.17 64.22 169.83 64.14 170.50 64.06 C171.17 63.98 171.83 63.91 172.50 63.85 C173.17 63.80 173.83 63.75 174.50 63.71 C175.17 63.67 175.83 63.64 176.50 63.62 C177.17 63.60 177.83 63.59 178.50 63.58 C179.17 63.58 179.83 63.59 180.50 63.61 C181.17 63.63 181.83 63.66 182.50 63.70 C183.17 63.74 183.83 63.79 184.50 63.84 C185.17 63.90 185.83 63.96 186.50 64.03 C187.17 64.10 187.83 64.18 188.50 64.26 C189.17 64.35 189.83 64.44 190.50 64.53 C191.17 64.63 191.83 64.73 192.50 64.83 C193.17 64.93 193.83 65.04 194.50 65.15 C195.17 65.26 195.83 65.37 196.50 65.48 C197.17 65.60 197.83 65.71 198.50 65.83 C199.17 65.94 199.83 66.06 200.50 66.18 C201.17 66.29 201.83 66.41 202.50 66.53 C203.17 66.65 203.83 66.77 204.50 66.89 C205.17 67.01 205.83 67.13 206.50 67.26 C207.17 67.38 207.83 67.50 208.50 67.63 C209.17 67.75 209.83 67.88 210.50 68.01 C211.17 68.14 211.83 68.27 212.50 68.40 C213.17 68.53 213.83 68.67 214.50 68.80 C215.17 68.94 215.83 69.07 216.50 69.21 C217.17 69.34 217.83 69.48 218.50 69.61 C219.17 69.74 219.83 69.87 220.50 70.00 C221.17 70.12 221.83 70.25 222.50 70.37 C223.17 70.49 223.83 70.61 224.50 70.72 C225.17 70.84 225.83 70.95 226.50 71.06 C227.17 71.17 227.83 71.27 228.50 71.38 C229.17 71.48 229.83 71.58 230.50 71.68 C231.17 71.78 231.83 71.88 232.50 71.98 C233.17 72.08 233.83 72.17 234.50 72.27 C235.17 72.37 235.83 72.47 236.50 72.58 C237.17 72.68 237.83 72.78 238.50 72.89 C239.17 72.99 239.83 73.10 240.50 73.20 C241.17 73.30 241.83 73.40 242.50 73.49 C243.17 73.59 243.83 73.68 244.50 73.76 C245.17 73.85 245.83 73.93 246.50 74.01 C247.17 74.08 247.83 74.15 248.50 74.23 C249.17 74.30 249.83 74.37 250.50 74.44 C251.17 74.51 251.83 74.58 252.50 74.65 C253.17 74.73 253.83 74.80 254.50 74.88 C255.17 74.95 255.83 75.03 256.50 75.11 C257.17 75.18 257.83 75.26 258.50 75.33 C259.17 75.41 259.83 75.48 260.50 75.55 C261.17 75.63 261.83 75.70 262.50 75.76 C263.17 75.83 263.83 75.90 264.50 75.97 C265.17 76.03 265.83 76.10 266.50 76.16 C267.17 76.22 267.83 76.28 268.50 76.35 C269.17 76.41 269.83 76.47 270.50 76.53 C271.17 76.59 271.83 76.65 272.50 76.70 C273.17 76.76 273.83 76.82 274.50 76.87 C275.17 76.93 275.83 76.99 276.50 77.04 C277.17 77.10 277.83 77.15 278.50 77.20 C279.17 77.25 279.83 77.31 280.50 77.36 C281.17 77.41 281.83 77.45 282.50 77.50 C283.17 77.55 283.83 77.59 284.50 77.63 C285.17 77.67 285.83 77.71 286.50 77.75 C287.17 77.79 287.83 77.83 288.50 77.87 C289.17 77.91 289.83 77.95 290.50 78.00 C291.17 78.04 291.83 78.09 292.50 78.14 C293.17 78.19 293.83 78.24 294.50 78.29 C295.17 78.35 295.83 78.40 296.50 78.46 C297.17 78.51 297.83 78.57 298.50 78.62 C299.17 78.68 299.83 78.73 300.50 78.78 C301.17 78.83 301.83 78.87 302.50 78.92 C303.17 78.96 303.83 78.99 304.50 79.02 C305.17 79.05 305.83 79.08 306.50 79.10 C307.17 79.12 307.83 79.13 308.50 79.15 C309.17 79.16 309.83 79.17 310.50 79.18 C311.17 79.18 311.83 79.19 312.50 79.19 C313.17 79.19 313.83 79.19 314.50 79.20 C315.17 79.20 315.83 79.20 316.50 79.20 C317.17 79.20 317.83 79.21 318.50 79.21 C319.17 79.22 319.83 79.22 320.50 79.22 C321.17 79.23 321.83 79.23 322.50 79.24 C323.17 79.25 323.83 79.25 324.50 79.26 C325.17 79.27 325.83 79.27 326.50 79.28 C327.17 79.29 327.83 79.29 328.50 79.30 C329.17 79.31 329.83 79.31 330.50 79.32 C331.17 79.33 331.83 79.33 332.50 79.34 C333.17 79.35 333.83 79.35 334.50 79.36 C335.17 79.37 335.83 79.37 336.50 79.38 C337.17 79.38 337.83 79.39 338.50 79.39 C339.17 79.40 339.83 79.40 340.50 79.40 C341.17 79.41 341.83 79.41 342.50 79.41 C343.17 79.41 343.83 79.41 344.50 79.42 C345.17 79.42 345.83 79.42 346.50 79.42 C347.17 79.42 347.83 79.42 348.50 79.42 C349.17 79.42 349.83 79.42 350.50 79.42 C351.17 79.42 351.83 79.41 352.50 79.41 C353.17 79.41 353.83 79.41 354.50 79.41 C355.17 79.41 355.83 79.41 356.50 79.41 C357.17 79.40 357.83 79.40 358.50 79.40 C359.17 79.40 359.83 79.40 360.50 79.40 C361.17 79.40 361.83 79.40 362.50 79.40 C363.17 79.40 363.83 79.40 364.50 79.40 C365.17 79.40 365.83 79.40 366.50 79.40 C367.17 79.40 367.83 79.40 368.50 79.40 C369.17 79.40 369.83 79.40 370.50 79.40 C371.17 79.40 371.83 79.40 372.50 79.40 C373.17 79.40 373.83 79.40 374.50 79.40 C375.17 79.40 375.83 79.40 376.50 79.40 C377.17 79.40 377.83 79.40 378.50 79.40 C379.17 79.40 379.83 79.40 380.50 79.40 C381.17 79.40 381.83 79.40 382.50 79.40 C383.17 79.40 383.83 79.40 384.50 79.40 C385.17 79.40 385.83 79.40 386.50 79.40 C387.17 79.40 387.83 79.40 388.50 79.40 C389.17 79.40 389.83 79.40 390.50 79.40 C391.17 79.40 391.83 79.40 392.50 79.40 C393.17 79.40 393.83 79.40 394.50 79.40 C395.17 79.40 395.83 79.40 396.50 79.40 C397.17 79.40 397.83 79.40 398.50 79.40 C399.17 79.40 399.83 79.40 400.50 79.40 C401.17 79.40 401.83 79.40 402.50 79.40 C403.17 79.40 403.83 79.40 404.50 79.40 C405.17 79.40 405.83 79.40 406.50 79.40 C407.17 79.40 407.83 79.40 408.50 79.40 C409.17 79.40 409.83 79.40 410.50 79.40 C411.17 79.40 411.83 79.40 412.50 79.40 C413.17 79.40 413.83 79.40 414.50 79.40 C415.17 79.40 415.83 79.40 416.50 79.40 C417.17 79.40 417.83 79.40 418.50 79.40 C419.17 79.40 419.83 79.40 420.50 79.40 C421.17 79.40 421.83 79.40 422.50 79.40 C423.17 79.40 423.93 79.40 424.50 79.40 C425.07 79.40 425.33 79.40 425.90 79.40 C426.47 79.40 427.57 79.40 427.90 79.40" stroke="#ff0000" stroke-dasharray="4.9 4.93" stroke-dashoffset="5.44"/>
</g>
<g stroke="#666" stroke-opacity="0.5" stroke-width="1" fill="none">
<path d="M28.50 21.0V266.8"/>
<path d="M28.00 77.50H425.90"/>
</g>
<g stroke="#666" stroke-opacity="0.6" stroke-width="0.8" fill="none">
<path d="M42.70 77.50v-3.0M56.90 77.50v-3.0M71.10 77.50v-3.0M85.30 77.50v-3.0M99.50 77.50v-4.8M113.70 77.50v-3.0M127.90 77.50v-3.0M142.10 77.50v-3.0M156.30 77.50v-3.0M170.50 77.50v-4.8M184.70 77.50v-3.0M198.90 77.50v-3.0M213.10 77.50v-3.0M227.30 77.50v-3.0M241.50 77.50v-4.8M255.70 77.50v-3.0M269.90 77.50v-3.0M284.10 77.50v-3.0M298.30 77.50v-3.0M312.50 77.50v-4.8M326.70 77.50v-3.0M340.90 77.50v-3.0M355.10 77.50v-3.0M369.30 77.50v-3.0M383.50 77.50v-4.8M397.70 77.50v-3.0M411.90 77.50v-3.0M426.10 77.50v-3.0"/>
<path d="M28.50 266.78h3.0M28.50 260.26h3.0M28.50 253.73h3.0M28.50 247.20h3.0M28.50 240.68h4.8M28.50 234.15h3.0M28.50 227.62h3.0M28.50 221.09h3.0M28.50 214.57h3.0M28.50 208.04h4.8M28.50 201.51h3.0M28.50 194.99h3.0M28.50 188.46h3.0M28.50 181.93h3.0M28.50 175.41h4.8M28.50 168.88h3.0M28.50 162.35h3.0M28.50 155.82h3.0M28.50 149.30h3.0M28.50 142.77h4.8M28.50 136.24h3.0M28.50 129.72h3.0M28.50 123.19h3.0M28.50 116.66h3.0M28.50 110.13h4.8M28.50 103.61h3.0M28.50 97.08h3.0M28.50 90.55h3.0M28.50 84.03h3.0M28.50 77.50h4.8M28.50 70.97h3.0M28.50 64.45h3.0M28.50 57.92h3.0M28.50 51.39h3.0M28.50 44.87h4.8M28.50 38.34h3.0M28.50 31.81h3.0M28.50 25.28h3.0"/>
</g>
<g fill="none" stroke-width="2.70">
<path d="M295.3 105.7H318.5" stroke="#0000aa"/>
<path d="M296.6 141.8H341.0" stroke="#0000ff" stroke-width="2.45" stroke-dasharray="4.9 4.93"/>
<path d="M295.3 177.6H318.5" stroke="#808080"/>
<path d="M295.3 213.7H318.5" stroke="#aa0000"/>
<path d="M296.6 249.5H341.0" stroke="#ff0000" stroke-width="2.45" stroke-dasharray="4.9 4.93"/>
</g>
<g font-family="Liberation Sans, sans-serif" fill="#000">
<text x="7.73" y="48.87" font-size="12.5px">0.5</text>
<text x="7.73" y="81.50" font-size="12.5px">0.0</text>
<path d="M0.47 111.03h5.9" stroke="#000" stroke-width="1.1" fill="none"/>
<text x="7.72" y="114.13" font-size="12.5px">0.5</text>
<path d="M0.47 143.67h5.9" stroke="#000" stroke-width="1.1" fill="none"/>
<path transform="translate(7.72 146.77) scale(0.00610 -0.00610)" d="M763 0H583V1147Q518 1085 412.5 1023Q307 961 223 930V1104Q374 1175 487 1276Q600 1377 647 1472H763Z"/>
<text x="14.67" y="146.77" font-size="12.5px">.0</text>
<path d="M0.47 176.31h5.9" stroke="#000" stroke-width="1.1" fill="none"/>
<path transform="translate(7.72 179.41) scale(0.00610 -0.00610)" d="M763 0H583V1147Q518 1085 412.5 1023Q307 961 223 930V1104Q374 1175 487 1276Q600 1377 647 1472H763Z"/>
<text x="14.67" y="179.41" font-size="12.5px">.5</text>
<path d="M0.47 208.94h5.9" stroke="#000" stroke-width="1.1" fill="none"/>
<text x="7.72" y="212.04" font-size="12.5px">2.0</text>
<path d="M0.47 241.57h5.9" stroke="#000" stroke-width="1.1" fill="none"/>
<text x="7.72" y="244.67" font-size="12.5px">2.5</text>
<text x="90.81" y="92.35" font-size="12.5px">0.5</text>
<path transform="translate(161.81 92.35) scale(0.00610 -0.00610)" d="M763 0H583V1147Q518 1085 412.5 1023Q307 961 223 930V1104Q374 1175 487 1276Q600 1377 647 1472H763Z"/>
<text x="168.76" y="92.35" font-size="12.5px">.0</text>
<path transform="translate(232.81 92.35) scale(0.00610 -0.00610)" d="M763 0H583V1147Q518 1085 412.5 1023Q307 961 223 930V1104Q374 1175 487 1276Q600 1377 647 1472H763Z"/>
<text x="239.76" y="92.35" font-size="12.5px">.5</text>
<text x="303.81" y="92.35" font-size="12.5px">2.0</text>
<text x="374.81" y="92.35" font-size="12.5px">2.5</text>
</g>
<text x="13.7" y="10.9" font-size="12.5px" font-family="Liberation Sans, sans-serif" textLength="8.9" lengthAdjust="spacingAndGlyphs">Ω</text>
<text x="23.5" y="13.6" font-size="11.5px" stroke="#000" stroke-width="0.2" font-family="Liberation Sans, sans-serif" font-style="italic">θ</text>
<text x="30.6" y="10.9" font-size="12px" font-family="Liberation Sans, sans-serif">(</text>
<text x="34.8" y="10.9" font-size="11px" font-family="Liberation Serif, serif" font-style="italic">r</text>
<text x="39.2" y="10.9" font-size="12px" font-family="Liberation Sans, sans-serif">)</text>
<text x="435.2" y="81.3" font-size="11.5px" font-family="Liberation Serif, serif" font-style="italic">r</text>
<g fill="#000">
<text x="327.44" y="111.80" font-size="15.00px" font-family="Liberation Serif, serif" font-style="italic">b</text>
<path d="M338.10 107.45h7.20" stroke="#000" stroke-width="1.25" fill="none"/>
<text x="348.79" y="111.90" font-size="15.40px" font-family="Liberation Sans, sans-serif" font-style="italic" stroke="#000" stroke-width="0.15">δ</text>
<text x="361.05" y="111.80" font-size="15.00px" font-family="Liberation Serif, serif" font-style="italic">b</text>
<text transform="translate(352.82 147.20) scale(1.090 1)" font-size="13.90px" font-family="Liberation Sans, sans-serif" font-style="italic" stroke="#000" stroke-width="0.15">μ</text>
<text x="363.61" y="147.40" font-size="14.00px" font-family="Liberation Sans, sans-serif" stroke="#000" stroke-width="0.15">+</text>
<text x="375.09" y="147.50" font-size="15.40px" font-family="Liberation Sans, sans-serif" font-style="italic" stroke="#000" stroke-width="0.15">δ</text>
<text transform="translate(384.62 147.20) scale(1.090 1)" font-size="13.90px" font-family="Liberation Sans, sans-serif" font-style="italic" stroke="#000" stroke-width="0.15">μ</text>
<text x="327.64" y="183.60" font-size="15.00px" font-family="Liberation Serif, serif" font-style="italic">b</text>
<text transform="translate(338.58 183.10) scale(1.200 1)" font-size="14.00px" font-family="Liberation Sans, sans-serif" stroke="#000" stroke-width="0.15">=</text>
<text transform="translate(354.11 183.40) scale(1.090 1)" font-size="13.70px" font-family="Liberation Sans, sans-serif" font-style="italic" stroke="#000" stroke-width="0.15">μ</text>
<text transform="translate(366.38 183.10) scale(1.200 1)" font-size="14.00px" font-family="Liberation Sans, sans-serif" stroke="#000" stroke-width="0.15">=</text>
<text transform="translate(381.21 183.50) scale(1.050 1)" font-size="15.00px" font-family="Liberation Sans, sans-serif" font-style="italic" stroke="#000" stroke-width="0.15">λ</text>
<text transform="translate(392.28 183.10) scale(1.200 1)" font-size="14.00px" font-family="Liberation Sans, sans-serif" stroke="#000" stroke-width="0.15">=</text>
<path transform="translate(407.82 183.10) scale(0.00664 -0.00664)" d="M763 0H583V1147Q518 1085 412.5 1023Q307 961 223 930V1104Q374 1175 487 1276Q600 1377 647 1472H763Z"/>
<text x="327.55" y="219.40" font-size="15.00px" font-family="Liberation Serif, serif" font-style="italic">b</text>
<text x="337.49" y="220.00" font-size="14.50px" font-family="Liberation Sans, sans-serif" stroke="#000" stroke-width="0.15">+</text>
<text x="348.99" y="219.00" font-size="15.40px" font-family="Liberation Sans, sans-serif" font-style="italic" stroke="#000" stroke-width="0.15">δ</text>
<text x="361.14" y="219.40" font-size="15.00px" font-family="Liberation Serif, serif" font-style="italic">b</text>
<text transform="translate(352.97 255.40) scale(0.960 1)" font-size="15.60px" font-family="Liberation Sans, sans-serif" font-style="italic" stroke="#000" stroke-width="0.15">λ</text>
<text x="362.19" y="255.60" font-size="14.50px" font-family="Liberation Sans, sans-serif" stroke="#000" stroke-width="0.15">+</text>
<text x="374.69" y="254.80" font-size="15.40px" font-family="Liberation Sans, sans-serif" font-style="italic" stroke="#000" stroke-width="0.15">δ</text>
<text transform="translate(383.89 255.40) scale(0.980 1)" font-size="15.60px" font-family="Liberation Sans, sans-serif" font-style="italic" stroke="#000" stroke-width="0.15">λ</text>
</g>
</svg>
</body></html>
